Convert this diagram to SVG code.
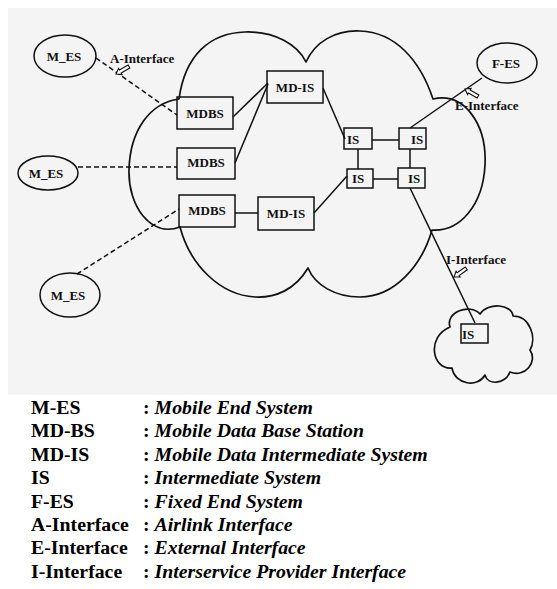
<svg xmlns="http://www.w3.org/2000/svg" width="557" height="589" viewBox="0 0 557 589">
<style>
.ln{fill:none;stroke:#111;stroke-width:1.5}
.dash{fill:none;stroke:#111;stroke-width:1.5;stroke-dasharray:5 3}
.cloud{fill:none;stroke:#111;stroke-width:1.7;stroke-linejoin:round}
.box{fill:none;stroke:#111;stroke-width:1.5}
.t{font-family:"Liberation Serif","Times New Roman",serif;font-weight:bold;font-size:13px;fill:#111}
.c{text-anchor:middle}
.lg{font-family:"Liberation Serif","Times New Roman",serif;font-weight:bold;font-size:19.8px;fill:#000}
.it{font-style:italic}
.mk{fill:#fff;stroke:#111;stroke-width:1.1;stroke-linejoin:miter}
</style>
<defs>
<polygon id="hollowArrow" class="mk" points="0,0 5,-3.5 5,-1.7 15,-1.7 15,1.7 5,1.7 5,3.5"/>
</defs>
<rect x="8" y="8" width="549" height="387" fill="#f4f4f4"/>

<g id="cloud-main">
<path class="cloud" d="M179,99 C185,55 210,33 245,32 C275,31 298,45 306,62 C315,42 335,30 360,31 C395,32 420,60 433,99 C465,92 487,125 485,165 C483,205 460,232 432,230 C422,265 395,297 360,297 C335,297 315,285 308,268 C295,290 275,298 255,297 C220,295 190,265 180,227 C150,238 128,205 129,170 C130,130 150,103 179,99 Z"/>
</g>
<g id="cloud-small">
<path class="cloud" d="M450,327 C445,312 470,303 480,314 C488,302 512,304 513,316 C530,316 537,338 530,350 C538,362 525,378 510,372 C505,384 488,386 485,375 C478,388 455,385 452,368 C432,370 426,337 450,327 Z"/>
</g>

<g id="connectors">
<line class="dash" x1="96" y1="58" x2="177" y2="115"/>
<line class="dash" x1="78" y1="167" x2="177" y2="167"/>
<line class="dash" x1="77" y1="274" x2="179" y2="209"/>
<line class="ln" x1="233" y1="117" x2="268" y2="83"/>
<line class="ln" x1="235" y1="163" x2="268" y2="84"/>
<line class="ln" x1="235" y1="213" x2="258" y2="213"/>
<line class="ln" x1="323" y1="88" x2="345" y2="139"/>
<line class="ln" x1="314" y1="213" x2="347" y2="176"/>
<line class="ln" x1="372" y1="140" x2="399" y2="140"/>
<line class="ln" x1="373" y1="179" x2="398" y2="179"/>
<line class="ln" x1="358" y1="149" x2="358" y2="169"/>
<line class="ln" x1="410" y1="149" x2="410" y2="168"/>
<line class="ln" x1="410" y1="128" x2="482" y2="78"/>
<line class="ln" x1="410" y1="188" x2="475" y2="323"/>
<use href="#hollowArrow" transform="translate(116,74) rotate(-30)"/>
<use href="#hollowArrow" transform="translate(465,89) rotate(30)"/>
<use href="#hollowArrow" transform="translate(454,277) rotate(-35)"/>
<text class="t" x="110" y="63">A-Interface</text>
<text class="t" x="455" y="110">E-Interface</text>
<text class="t" x="446" y="264">I-Interface</text>
</g>

<g id="mes1"><ellipse class="box" cx="65" cy="56" rx="31" ry="21"/><text class="t c" x="64" y="61">M_ES</text></g>
<g id="mes2"><ellipse class="box" cx="48" cy="173" rx="30" ry="17"/><text class="t c" x="46" y="178">M_ES</text></g>
<g id="mes3"><ellipse class="box" cx="70" cy="295" rx="30" ry="22"/><text class="t c" x="68" y="300">M_ES</text></g>
<g id="fes"><ellipse class="box" cx="507" cy="63" rx="30" ry="20"/><text class="t c" x="506" y="68">F-ES</text></g>

<g id="mdbs1"><rect class="box" x="177" y="97" width="56" height="32"/><text class="t c" x="205" y="118">MDBS</text></g>
<g id="mdbs2"><rect class="box" x="177" y="148" width="58" height="31"/><text class="t c" x="206" y="167">MDBS</text></g>
<g id="mdbs3"><rect class="box" x="179" y="195" width="56" height="32"/><text class="t c" x="207" y="215">MDBS</text></g>
<g id="mdis1"><rect class="box" x="267" y="71" width="56" height="32"/><text class="t c" x="295" y="92">MD-IS</text></g>
<g id="mdis2"><rect class="box" x="258" y="197" width="56" height="33"/><text class="t c" x="286" y="218">MD-IS</text></g>

<g id="is1"><rect class="box" x="344" y="128" width="28" height="21"/><text class="t" x="347" y="144">IS</text></g>
<g id="is2"><rect class="box" x="399" y="128" width="27" height="21"/><text class="t" x="411" y="144">IS</text></g>
<g id="is3"><rect class="box" x="347" y="169" width="26" height="19"/><text class="t" x="352" y="183">IS</text></g>
<g id="is4"><rect class="box" x="398" y="168" width="27" height="20"/><text class="t" x="408" y="183">IS</text></g>
<g id="is5"><rect class="box" x="461" y="324" width="27" height="19"/><text class="t" x="462" y="339">IS</text></g>

<g id="legend">
<text class="lg" x="31" y="414">M-ES</text><text class="lg" x="143" y="414">: <tspan class="it">Mobile End System</tspan></text>
<text class="lg" x="31" y="437.4">MD-BS</text><text class="lg" x="143" y="437.4">: <tspan class="it">Mobile Data Base Station</tspan></text>
<text class="lg" x="31" y="460.8">MD-IS</text><text class="lg" x="143" y="460.8">: <tspan class="it">Mobile Data Intermediate System</tspan></text>
<text class="lg" x="31" y="484.2">IS</text><text class="lg" x="143" y="484.2">: <tspan class="it">Intermediate System</tspan></text>
<text class="lg" x="31" y="507.6">F-ES</text><text class="lg" x="143" y="507.6">: <tspan class="it">Fixed End System</tspan></text>
<text class="lg" x="31" y="531">A-Interface</text><text class="lg" x="143" y="531">: <tspan class="it">Airlink Interface</tspan></text>
<text class="lg" x="31" y="554.4">E-Interface</text><text class="lg" x="143" y="554.4">: <tspan class="it">External Interface</tspan></text>
<text class="lg" x="31" y="577.8">I-Interface</text><text class="lg" x="143" y="577.8">: <tspan class="it">Interservice Provider Interface</tspan></text>
</g>
</svg>
